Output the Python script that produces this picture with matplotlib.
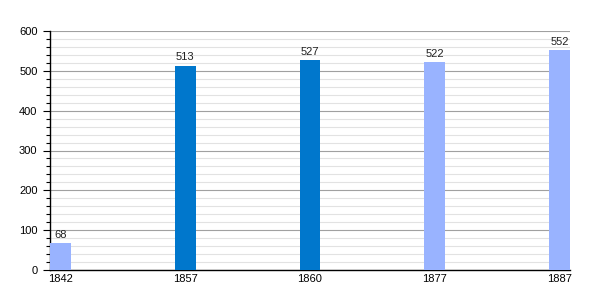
import numpy as np
import matplotlib
matplotlib.use("Agg")
import matplotlib.pyplot as plt
from matplotlib.ticker import MultipleLocator

plt.rcParams['font.family'] = ['Liberation Sans', 'DejaVu Sans']

years = ["1842", "1857", "1860", "1877", "1887"]
population = [68, 513, 527, 522, 552]
bar_colors = ["#99b3ff", "#0077cc", "#0077cc", "#99b3ff", "#99b3ff"]

fig = plt.figure(figsize=(6, 3), dpi=100)
ax = fig.add_axes([50/600, 30/300, 520/600, 239/300])

w = 0.168
x = np.arange(len(years))
bars = ax.bar(x, population, width=w, color=bar_colors, zorder=3)

for xi, v in zip(x, population):
    ax.text(xi, v + 8, str(v), ha="center", va="bottom", fontsize=8, color="#222222")

ax.set_xlim(-w/2, len(years) - 1 + w/2)
ax.set_ylim(0, 600)
ax.set_xticks(x)
ax.set_xticklabels(years)
ax.yaxis.set_major_locator(MultipleLocator(100))
ax.yaxis.set_minor_locator(MultipleLocator(20))

ax.grid(axis="y", which="major", color="#a0a0a0", linewidth=0.8, zorder=0)
ax.grid(axis="y", which="minor", color="#e2e2e2", linewidth=0.8, zorder=0)

for s in ["top", "right"]:
    ax.spines[s].set_visible(False)
ax.spines["left"].set_linewidth(1.0)
ax.spines["bottom"].set_linewidth(1.0)

ax.tick_params(axis="y", which="major", length=5, width=0.8, labelsize=8, pad=4)
ax.tick_params(axis="y", which="minor", length=3, width=0.8)
ax.tick_params(axis="x", length=0, labelsize=8, pad=3)

fig.savefig("out.png", dpi=100)
